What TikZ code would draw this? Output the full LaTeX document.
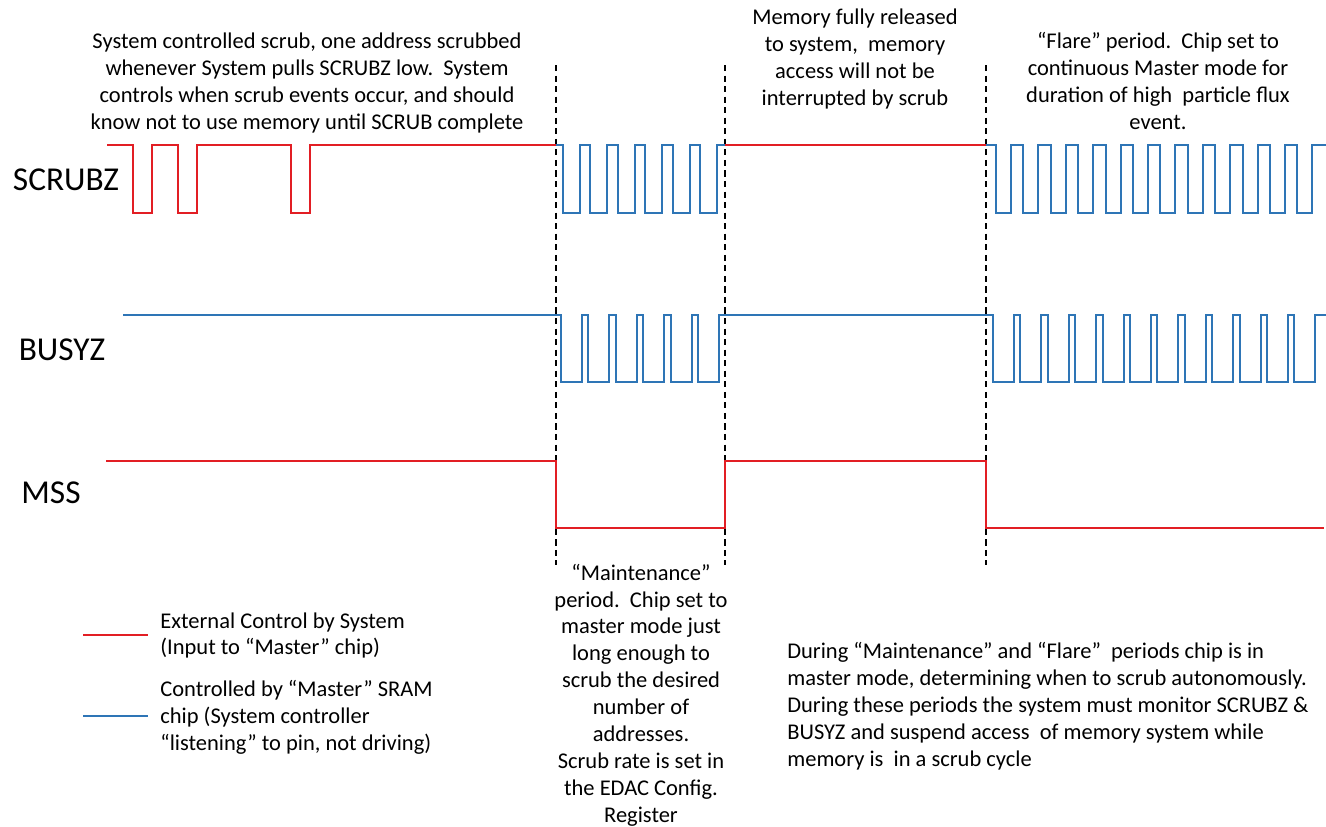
\documentclass[tikz,border=0pt]{standalone}
\usepackage{fontspec}
\setmainfont{Carlito}
\usepackage{tikz}

\definecolor{sysred}{RGB}{226,30,36}
\definecolor{chipblue}{RGB}{46,117,182}

\begin{document}
\begin{tikzpicture}[x=0.02cm,y=-0.02cm,
    ext/.style={sysred,line width=1.1pt},
    chip/.style={chipblue,line width=1.1pt},
    bound/.style={black,line width=1.1pt,dash pattern=on 3.5pt off 2.5pt},
    note/.style={inner sep=0pt,font=\fontsize{12.8}{15.3}\selectfont},
    sig/.style={inner sep=0pt,font=\fontsize{19}{22}\selectfont}]
        \useasboundingbox (0,0) rectangle (1326,826);
        % period boundaries
        \foreach \xb in {556,725,986}
            \draw[bound] (\xb,65) -- (\xb,565);
        % signal names
        \node[sig] (scrubz) at (66,180) {SCRUBZ};
        \node[sig] (busyz) at (62,350) {BUSYZ};
        \node[sig] (mss) at (51,493) {MSS};
        % SCRUBZ
        \draw[ext] (107,145) -- (133,145) -- (133,213) -- (152,213) -- (152,145)
            -- (178,145) -- (178,213) -- (197,213) -- (197,145)
            -- (291,145) -- (291,213) -- (310,213) -- (310,145) -- (556,145);
        \draw[chip] (556,145) foreach \k in {0,...,5} {
            -- ({563+27.4*\k},145) -- ++(0,68) -- ++(17,0) -- ++(0,-68) } -- (725,145);
        \draw[ext] (725,145) -- (986,145);
        \draw[chip] (986,145) foreach \k in {0,...,11} {
            -- ({996+27.4*\k},145) -- ++(0,68) -- ++(15,0) -- ++(0,-68) } -- (1326,145);
        % BUSYZ
        \draw[chip] (123,315) foreach \k in {0,...,5} {
            -- ({561+27.4*\k},315) -- ++(0,67) -- ++(21,0) -- ++(0,-67) }
            foreach \k in {0,...,11} {
            -- ({993+27.4*\k},315) -- ++(0,67) -- ++(21,0) -- ++(0,-67) } -- (1326,315);
        % MSS
        \draw[ext] (106,461) -- (556,461) -- (556,528) -- (725,528) -- (725,461)
            -- (986,461) -- (986,528) -- (1324,528);
        % notes
        \node[note,align=center] (sysnote) at (307,83) {System controlled scrub, one address scrubbed\\
            whenever System pulls SCRUBZ low.\ \ System\\
            controls when scrub events occur, and should\\
            know not to use memory until SCRUB complete};
        \node[note,align=center] (relnote) at (855,59) {Memory fully released\\
            to system,\ \ memory\\ access will not be\\ interrupted by scrub};
        \node[note,align=center] (flarenote) at (1158,81) {“Flare” period.\ \ Chip set to\\
            continuous Master mode for\\ duration of high\ \ particle flux\\ event.};
        \node[note,align=center] (maintnote) at (641,695) {“Maintenance”\\
            period.\ \ Chip set to\\ master mode just\\ long enough to\\ scrub the desired\\
            number of\\ addresses.\\ Scrub rate is set in\\ the EDAC Config.\\ Register};
        \node[note,align=left,anchor=west] (masternote) at (787,706) {During “Maintenance” and “Flare”\ \ periods chip is in\\
            master mode, determining when to scrub autonomously.\\
            During these periods the system must monitor SCRUBZ \&\\
            BUSYZ and suspend access\ \ of memory system while\\
            memory is\ \ in a scrub cycle};
        % legend
        \coordinate (extA) at (83,635);
        \coordinate (extB) at (148,635);
        \coordinate (chipA) at (83,716);
        \coordinate (chipB) at (148,716);
        \draw[sysred,line width=0.8pt] (extA) -- (extB);
        \draw[chipblue,line width=0.8pt] (chipA) -- (chipB);
        \node[note,align=left,anchor=west] (extkey) at (160,635.5) {External Control by System\\
            (Input to “Master” chip)};
        \node[note,align=left,anchor=west] (chipkey) at (160,717) {Controlled by “Master” SRAM\\
            chip (System controller\\ “listening” to pin, not driving)};
    \end{tikzpicture}
\end{document}
